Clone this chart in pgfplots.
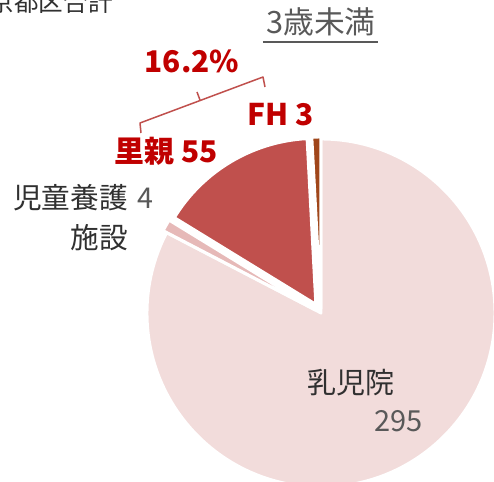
\documentclass[border=0pt]{standalone}
\usepackage{pgfplots}
\pgfplotsset{compat=1.18}
\usepackage{pgfplotstable}
\usepackage{fontspec}
\setmainfont{Noto Sans CJK JP}
\usepackage{xcolor}
\definecolor{pie0}{HTML}{F2DCDB}
\definecolor{pie1}{HTML}{E6B9B8}
\definecolor{pie2}{HTML}{C0504D}
\definecolor{pie3}{HTML}{A0461A}
\definecolor{redtxt}{HTML}{C00000}
\definecolor{graytxt}{HTML}{595959}
\definecolor{darktxt}{HTML}{303030}

% slice values; explode and radius in px of the 494x482 frame
\pgfplotstableread[col sep=comma]{
label,value,explode,radius
乳児院,295,0,174
児童養護施設,4,6,172
里親,55,10,166
FH,3,4,172
}\piedata

\newcommand\drawpie{%
  \xdef\pietotal{0}%
  \foreach \i in {0,...,3}{%
    \pgfplotstablegetelem{\i}{value}\of\piedata
    \pgfmathparse{\pietotal+\pgfplotsretval}\xdef\pietotal{\pgfmathresult}}%
  \xdef\pieangle{90}%
  \foreach \i in {0,...,3}{%
    \pgfplotstablegetelem{\i}{value}\of\piedata \let\v\pgfplotsretval
    \pgfplotstablegetelem{\i}{explode}\of\piedata \let\ex\pgfplotsretval
    \pgfplotstablegetelem{\i}{radius}\of\piedata \let\rr\pgfplotsretval
    \pgfmathsetmacro\a{\pieangle}%
    \pgfmathsetmacro\b{\pieangle-360*(\v/\pietotal)}%
    \pgfmathsetmacro\m{(\a+\b)/2}%
    \fill[fill=pie\i, draw=white, line width=0.06cm, line join=round]
      ([shift={(\m:\ex*0.02cm)}]C) -- ++(\a:\rr*0.02cm)
      arc[start angle=\a, end angle=\b, radius=\rr*0.02cm] -- cycle;
    \xdef\pieangle{\b}%
  }}

\begin{document}
\begin{tikzpicture}
\begin{axis}[
    scale only axis,
    width=9.88cm, height=9.64cm,
    xmin=0, xmax=494, ymin=0, ymax=482,
    y dir=reverse,
    hide axis,
    clip=true,
]
\coordinate (SW) at (rel axis cs:0,0);
\coordinate (NE) at (rel axis cs:1,1);
\pgfplotsextra{%
  \coordinate (C) at (axis cs:321,313);
  \drawpie
}

% titles
\node[anchor=base east, font=\fontsize{14pt}{16pt}\selectfont, text=darktxt, inner sep=0pt]
  at (axis cs:113,12) {東京都区合計};
\node[anchor=base, font=\fontsize{17.5pt}{20pt}\selectfont, text=graytxt, inner sep=0pt]
  at (axis cs:321,34) {3歳未満};
\draw[graytxt, line width=0.04cm] (axis cs:263,42) -- (axis cs:378,42);

% bracket and share
\draw[pie2, line width=0.03cm, line join=round]
  (axis cs:141,133) -- (axis cs:140,123) -- (axis cs:263,77) -- (axis cs:265,87);
\draw[pie2, line width=0.03cm] (axis cs:200,100) -- (axis cs:197,92);
\node[anchor=base, font=\fontsize{17pt}{20pt}\selectfont\bfseries, text=redtxt, inner sep=0pt]
  at (axis cs:192,73) {16.2\%};

% slice labels
\node[anchor=base, font=\fontsize{17pt}{20pt}\selectfont\bfseries, text=redtxt, inner sep=0pt]
  at (axis cs:281,126) {FH 3};
\node[anchor=base, font=\fontsize{17pt}{20pt}\selectfont\bfseries, text=redtxt, inner sep=0pt]
  at (axis cs:166,163) {里親 55};
\node[anchor=base east, font=\fontsize{16.3pt}{19pt}\selectfont, text=darktxt, inner sep=0pt]
  at (axis cs:128,209) {児童養護};
\node[anchor=base west, font=\fontsize{16.3pt}{19pt}\selectfont, text=graytxt, inner sep=0pt]
  at (axis cs:137,209) {4};
\node[anchor=base east, font=\fontsize{16.3pt}{19pt}\selectfont, text=darktxt, inner sep=0pt]
  at (axis cs:128,249) {施設};
\node[anchor=base west, font=\fontsize{16.5pt}{19pt}\selectfont, text=darktxt, inner sep=0pt]
  at (axis cs:307,394) {乳児院};
\node[anchor=base east, font=\fontsize{16.5pt}{19pt}\selectfont, text=graytxt, inner sep=0pt]
  at (axis cs:423,432) {295};
\end{axis}
\pgfresetboundingbox
\path[use as bounding box] (SW) rectangle (NE);
\end{tikzpicture}
\end{document}
